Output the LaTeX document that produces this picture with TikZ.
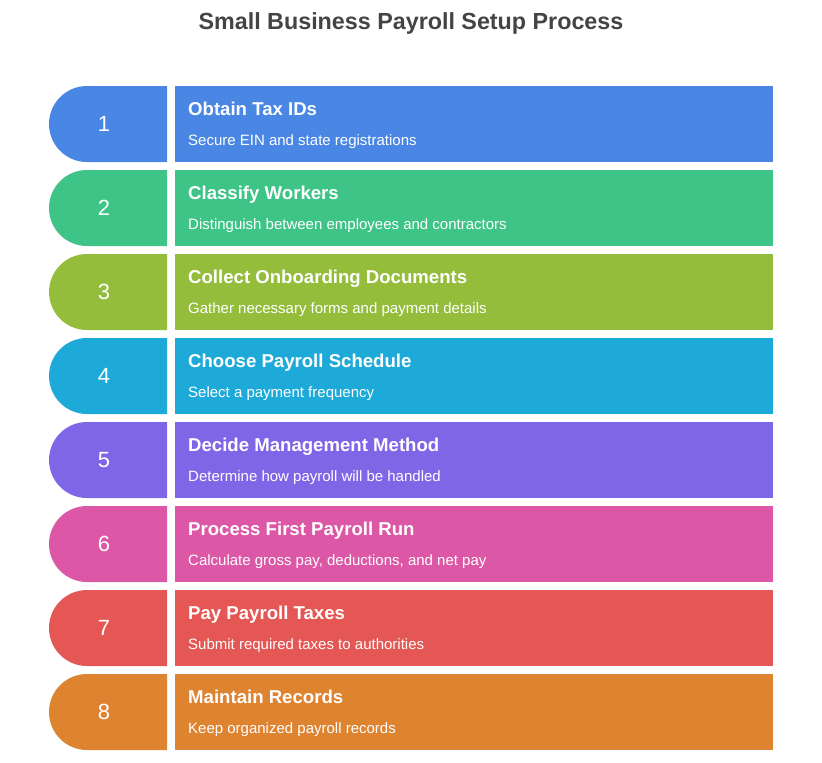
\documentclass[tikz,border=0pt]{standalone}
\usepackage{fontspec}
\setmainfont{Liberation Sans}
\definecolor{titlegray}{HTML}{444444}
\definecolor{c1}{HTML}{4A86E4}
\definecolor{c2}{HTML}{3EC486}
\definecolor{c3}{HTML}{93BD3B}
\definecolor{c4}{HTML}{1EAAD9}
\definecolor{c5}{HTML}{7E66E7}
\definecolor{c6}{HTML}{DC57A6}
\definecolor{c7}{HTML}{E55754}
\definecolor{c8}{HTML}{DE8330}
\begin{document}
\begin{tikzpicture}[x=1pt,y=-1pt,
  box/.style={fill=#1, draw=none, rectangle, inner sep=0pt, minimum width=598pt, minimum height=76pt, anchor=north west},
  head/.style={text=white, font=\fontsize{18.6}{20}\selectfont\bfseries, anchor=base west, inner sep=0pt},
  sub/.style={text=white, font=\fontsize{15}{17}\selectfont, anchor=base west, inner sep=0pt},
  num/.style={text=white, font=\fontsize{22}{24}\selectfont, inner sep=0pt}]
\useasboundingbox (0,0) rectangle (822,763);
\node[font=\fontsize{23.3}{26}\selectfont\bfseries, text=titlegray, inner sep=0pt] (title) at (411,23) {Small Business Payroll Setup Process};
\foreach \c/\h/\s [count=\i from 1] in {
  c1/Obtain Tax IDs/Secure EIN and state registrations,
  c2/Classify Workers/Distinguish between employees and contractors,
  c3/Collect Onboarding Documents/Gather necessary forms and payment details,
  c4/Choose Payroll Schedule/Select a payment frequency,
  c5/Decide Management Method/Determine how payroll will be handled,
  c6/Process First Payroll Run/{Calculate gross pay, deductions, and net pay},
  c7/Pay Payroll Taxes/Submit required taxes to authorities,
  c8/Maintain Records/Keep organized payroll records} {
  \pgfmathsetmacro\yt{86+84*(\i-1)}
  \fill[\c] (167,\yt) -- (87,\yt) arc[start angle=-90, end angle=-270, radius=38] -- (167,\yt+76) -- cycle;
  \node[num] (n\i) at (104,\yt+38) {\i};
  \node[box=\c] (b\i) at (175,\yt) {};
  \node[head] (h\i) at (188,\yt+29) {\h};
  \node[sub] (s\i) at (188,\yt+59) {\s};
}
\end{tikzpicture}
\end{document}
